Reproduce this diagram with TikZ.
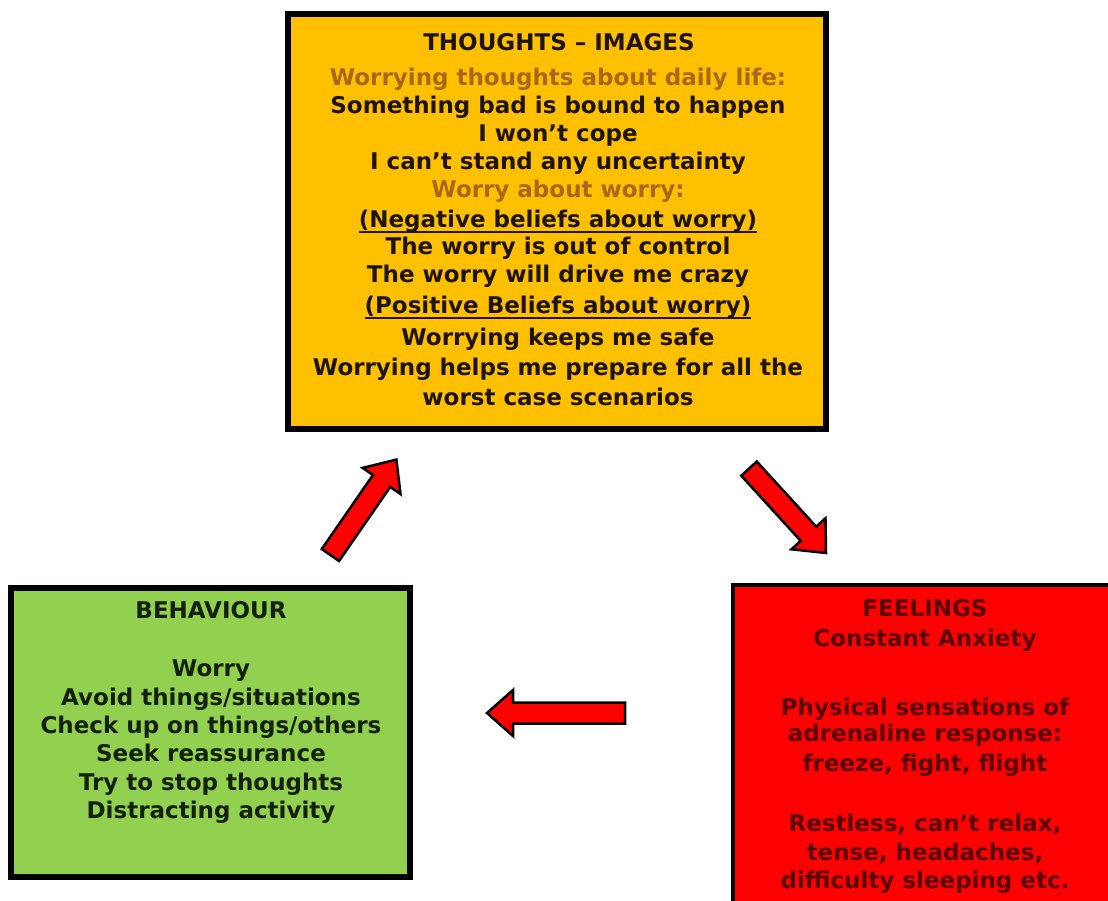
\documentclass[tikz,border=0pt]{standalone}
\usepackage{fontspec}
\setmainfont{DejaVu Sans}
\usetikzlibrary{calc}
\definecolor{thfill}{HTML}{FFC000}
\definecolor{grfill}{HTML}{92D050}
\definecolor{rdfill}{HTML}{FF0000}
\definecolor{orangetxt}{RGB}{168,104,24}
\definecolor{darktxt}{RGB}{30,20,0}
\definecolor{greentxt}{RGB}{20,32,8}
\definecolor{redtxt}{RGB}{90,0,0}
\newcommand\blockarr[1]{%
  \coordinate (#1h) at ($(#1e)!26pt!(#1s)$);
  \draw[blockarrow] ($(#1s)!10.5pt!90:(#1e)$) -- ($(#1h)!10.5pt!90:(#1e)$) -- ($(#1h)!23pt!90:(#1e)$) -- (#1e) -- ($(#1h)!23pt!-90:(#1e)$) -- ($(#1h)!10.5pt!-90:(#1e)$) -- ($(#1s)!10.5pt!-90:(#1e)$) -- cycle;}
\newcommand\myul[1]{\setbox0\hbox{#1}\rlap{\rule[-5.5pt]{\wd0}{2pt}}\box0}
\begin{document}
\begin{tikzpicture}[x=1pt,y=-1pt,
  box/.style={draw=black, line width=5.5pt, inner sep=0pt, outer sep=0pt, line join=miter},
  ln/.style={anchor=base, inner sep=0pt, font=\bfseries\fontsize{23}{28}\selectfont},
  blockarrow/.style={draw=black, fill=rdfill, line width=2.5pt, line join=miter}
]
\clip (0,0) rectangle (1108,901);
\fill[white] (0,0) rectangle (1108,901);

% boxes
\node[box, fill=thfill, minimum width=538pt, minimum height=415pt] (thoughts) at (557,221.5) {};
\node[box, fill=grfill, minimum width=399pt, minimum height=289pt] (behaviour) at (210.5,732.5) {};
\node[box, line width=4pt, fill=rdfill, minimum width=397pt, minimum height=335pt] (feelings) at (931.5,752.5) {};

% thoughts text
\node[ln, text=darktxt] (th0) at (559,51) {THOUGHTS – IMAGES};
\node[ln, text=orangetxt] (th1) at (558,86) {Worrying thoughts about daily life:};
\node[ln, text=darktxt] (th2) at (558,114) {Something bad is bound to happen};
\node[ln, text=darktxt] (th3) at (558,142) {I won’t cope};
\node[ln, text=darktxt] (th4) at (558,170) {I can’t stand any uncertainty};
\node[ln, text=orangetxt] (th5) at (558,198) {Worry about worry:};
\node[ln, text=darktxt] (th6) at (558,228) {\myul{(Negative beliefs about worry)}};
\node[ln, text=darktxt] (th7) at (558,255) {The worry is out of control};
\node[ln, text=darktxt] (th8) at (558,283) {The worry will drive me crazy};
\node[ln, text=darktxt] (th9) at (558,313) {\myul{(Positive Beliefs about worry)}};
\node[ln, text=darktxt] (th10) at (558,345) {Worrying keeps me safe};
\node[ln, text=darktxt] (th11) at (558,375) {Worrying helps me prepare for all the};
\node[ln, text=darktxt] (th12) at (558,405) {worst case scenarios};

% behaviour text
\node[ln, text=greentxt] (bh0) at (211,618) {BEHAVIOUR};
\node[ln, text=greentxt] (bh1) at (211,676) {Worry};
\node[ln, text=greentxt] (bh2) at (211,705) {Avoid things/situations};
\node[ln, text=greentxt] (bh3) at (211,733) {Check up on things/others};
\node[ln, text=greentxt] (bh4) at (211,761) {Seek reassurance};
\node[ln, text=greentxt] (bh5) at (211,790) {Try to stop thoughts};
\node[ln, text=greentxt] (bh6) at (211,818) {Distracting activity};

% feelings text
\node[ln, text=redtxt] (fe0) at (925,616) {FEELINGS};
\node[ln, text=redtxt] (fe1) at (925,646) {Constant Anxiety};
\node[ln, text=redtxt] (fe2) at (925,715) {Physical sensations of};
\node[ln, text=redtxt] (fe3) at (925,741) {adrenaline response:};
\node[ln, text=redtxt] (fe4) at (925,771) {freeze, fight, flight};
\node[ln, text=redtxt] (fe5) at (925,831) {Restless, can’t relax,};
\node[ln, text=redtxt] (fe6) at (925,860) {tense, headaches,};
\node[ln, text=redtxt] (fe7) at (925,888) {difficulty sleeping etc.};

% arrows
\coordinate (ones) at (330.4,555);
\coordinate (onee) at (396.4,459.6);
\blockarr{one}
\coordinate (twos) at (749,468.6);
\coordinate (twoe) at (826,553);
\blockarr{two}
\coordinate (threes) at (625,713);
\coordinate (threee) at (487,713);
\blockarr{three}
\end{tikzpicture}
\end{document}
